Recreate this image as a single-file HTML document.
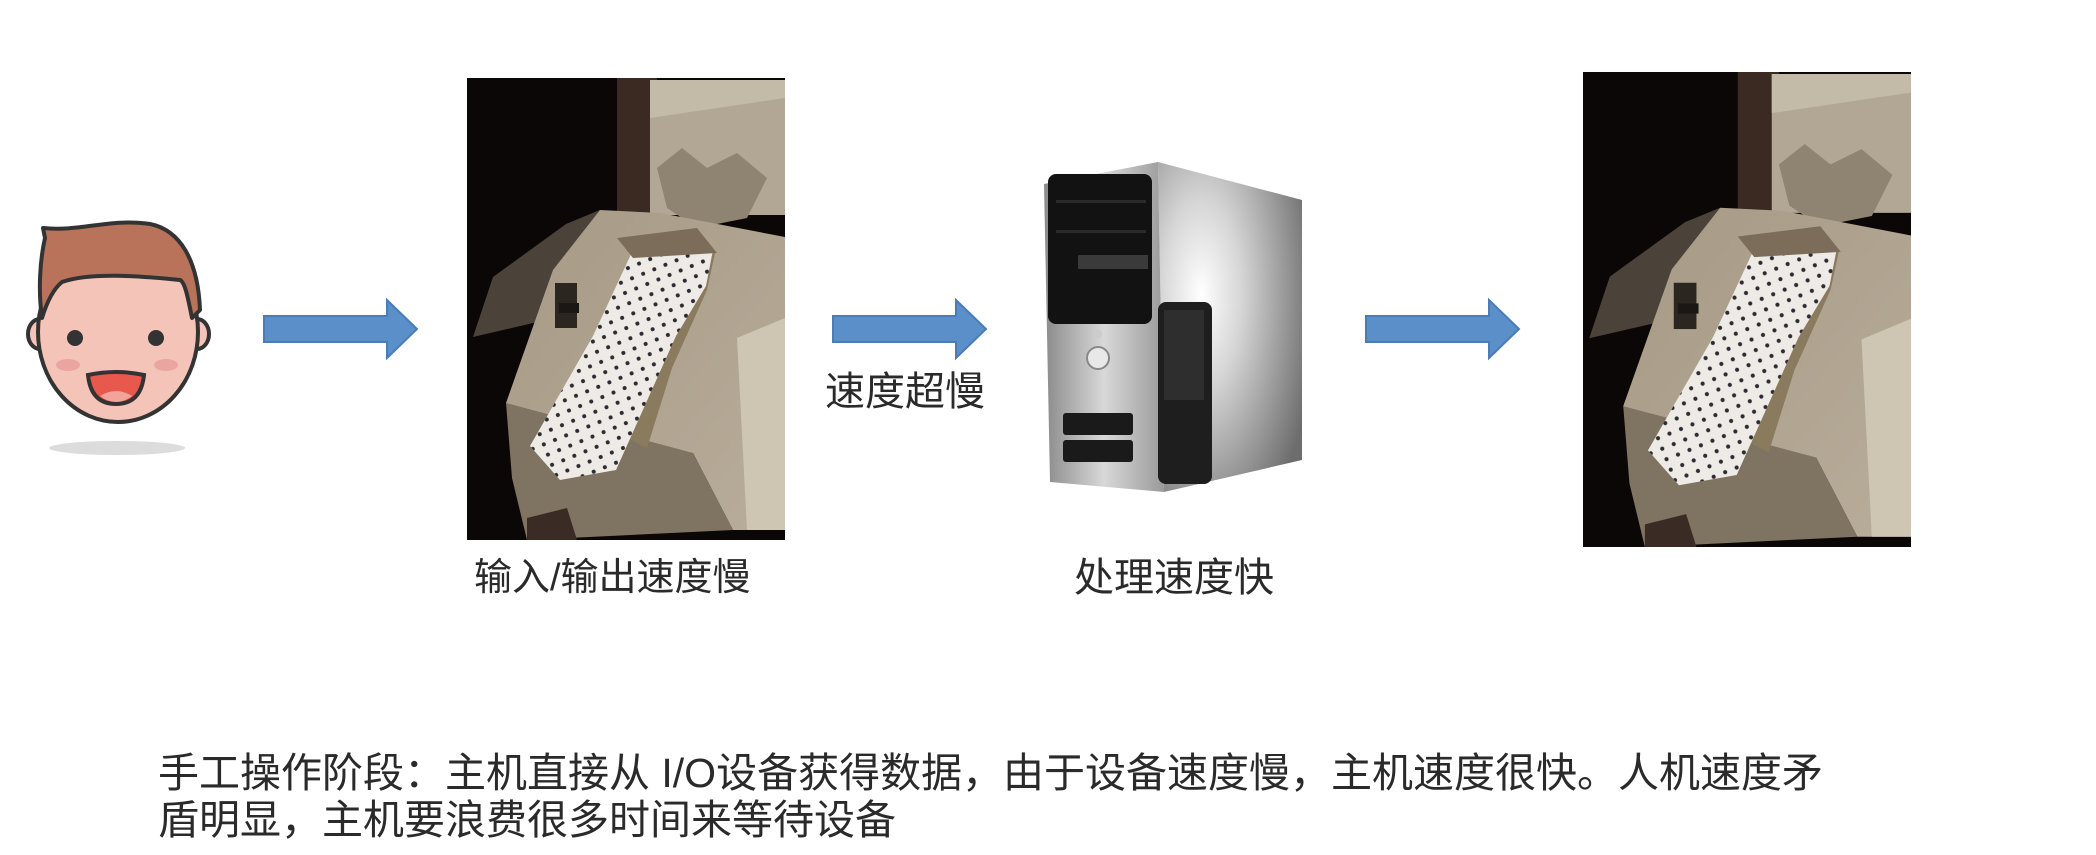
<!DOCTYPE html>
<html><head><meta charset="utf-8"><style>
html,body{margin:0;padding:0;background:#fff;}
body{width:2096px;height:855px;position:relative;overflow:hidden;font-family:"Liberation Sans","Noto Sans CJK SC",sans-serif;color:#2a2a2a;}
.a{position:absolute;}
.t{position:absolute;white-space:nowrap;line-height:1;}
</style></head><body>

<!-- face -->
<svg class="a" style="left:20px;top:210px" width="200" height="250" viewBox="0 0 200 250">
<ellipse cx="97" cy="238" rx="68" ry="7" fill="#dcdcdc"/>
<ellipse cx="20" cy="124" rx="12" ry="15" fill="#f5c4b8" stroke="#333" stroke-width="4"/>
<ellipse cx="177" cy="124" rx="12" ry="15" fill="#f5c4b8" stroke="#333" stroke-width="4"/>
<ellipse cx="98" cy="122" rx="80" ry="90" fill="#f5c4b8" stroke="#333" stroke-width="4"/>
<path d="M22,108 C18,80 20,50 25,28 L23,18 C60,22 90,8 130,14 C160,20 178,50 180,100 L172,108 C168,88 165,72 160,70 C120,66 70,62 42,72 C32,80 26,95 22,108 Z" fill="#b9735a" stroke="#333" stroke-width="4" stroke-linejoin="round"/>
<circle cx="55" cy="128" r="8" fill="#333"/>
<circle cx="136" cy="128" r="8" fill="#333"/>
<ellipse cx="48" cy="155" rx="12" ry="6" fill="#eba5a0"/>
<ellipse cx="146" cy="155" rx="12" ry="6" fill="#eba5a0"/>
<path d="M68,165 Q96,159 124,165 Q121,194 96,194 Q71,194 68,165 Z" fill="#e8584d" stroke="#333" stroke-width="4"/>
<path d="M80,186 Q96,176 112,186 Q104,192 96,192 Q88,192 80,186Z" fill="#f2a39a"/>
</svg>

<!-- arrows -->
<svg class="a" style="left:260px;top:296px" width="162" height="66" viewBox="0 0 162 66"><path d="M4,20 L127,20 L127,4 L157,33 L127,62 L127,46 L4,46 Z" fill="#5b8fca" stroke="#4a7db5" stroke-width="2"/></svg>
<svg class="a" style="left:829px;top:296px" width="162" height="66" viewBox="0 0 162 66"><path d="M4,20 L127,20 L127,4 L157,33 L127,62 L127,46 L4,46 Z" fill="#5b8fca" stroke="#4a7db5" stroke-width="2"/></svg>
<svg class="a" style="left:1362px;top:296px" width="162" height="66" viewBox="0 0 162 66"><path d="M4,20 L127,20 L127,4 L157,33 L127,62 L127,46 L4,46 Z" fill="#5b8fca" stroke="#4a7db5" stroke-width="2"/></svg>

<!-- photo defs -->
<svg width="0" height="0" style="position:absolute">
<defs>
<pattern id="dots" width="12" height="11" patternUnits="userSpaceOnUse" patternTransform="rotate(-22)">
<rect width="12" height="11" fill="#eeebe6"/><circle cx="6" cy="5.5" r="2" fill="#2b2a30"/>
</pattern>
<linearGradient id="body" x1="0" y1="0" x2="1" y2="1"><stop offset="0" stop-color="#a69a86"/><stop offset="1" stop-color="#b8ad9a"/></linearGradient>
<g id="photo">
<rect width="318" height="462" fill="#0b0706"/>
<rect x="150" y="0" width="40" height="170" fill="#3a2a21"/>
<rect x="183" y="2" width="135" height="135" fill="#b2a794"/>
<polygon points="183,2 318,2 318,20 183,40" fill="#c4baa8"/>
<polygon points="190,90 215,70 240,90 270,75 300,100 280,140 230,150 200,130" fill="#8f8472"/>
<polygon points="26,199 99,146 133,132 109,178 79,242 6,259" fill="#4b4239"/>
<polygon points="86,192 133,132 193,135 318,159 318,452 266,452 226,375 59,368 39,325" fill="url(#body)"/>
<polygon points="270,260 318,240 318,452 280,452" fill="#cfc5b3"/>
<polygon points="39,325 226,375 266,452 60,462 45,400" fill="#7f7361"/>
<polygon points="60,440 100,430 110,462 60,462" fill="#3a2c24"/>
<rect x="88" y="205" width="22" height="45" fill="#2c2620"/>
<rect x="92" y="225" width="20" height="10" fill="#1b1714"/>
<polygon points="206,180 248,175 240,212 205,290 180,370 160,360 185,270" fill="#8a7a5e"/>
<polygon points="166,172 246,172 239,208 209,258 179,325 149,392 93,402 63,368 126,258" fill="url(#dots)"/>
<polygon points="150,160 230,150 250,175 166,180" fill="#7c6d5a"/>
</g>
</defs>
</svg>
<svg class="a" style="left:467px;top:78px" width="318" height="462" viewBox="0 0 318 462" preserveAspectRatio="none"><use href="#photo"/></svg>
<svg class="a" style="left:1583px;top:72px" width="328" height="475" viewBox="0 0 318 462" preserveAspectRatio="none"><use href="#photo"/></svg>

<!-- computer -->
<svg class="a" style="left:1040px;top:160px" width="270" height="340" viewBox="0 0 270 340">
<defs>
<radialGradient id="side" cx="0.3" cy="0.4" r="0.8"><stop offset="0" stop-color="#ffffff"/><stop offset="0.35" stop-color="#d6d6d6"/><stop offset="1" stop-color="#6d6d6d"/></radialGradient>
<linearGradient id="front" x1="0" y1="0" x2="1" y2="0"><stop offset="0" stop-color="#8a8a8a"/><stop offset="0.5" stop-color="#d8d8d8"/><stop offset="1" stop-color="#9a9a9a"/></linearGradient>
</defs>
<polygon points="118,2 262,40 262,300 124,332" fill="url(#side)"/>
<polygon points="4,24 118,2 124,332 10,322" fill="url(#front)"/>
<rect x="8" y="14" width="104" height="150" rx="8" fill="#121212"/>
<rect x="16" y="40" width="90" height="3" fill="#2a2a2a"/>
<rect x="16" y="70" width="90" height="3" fill="#2a2a2a"/>
<rect x="38" y="95" width="70" height="14" fill="#3a3a3a"/>
<circle cx="58" cy="174" r="4" fill="#ccc"/>
<circle cx="58" cy="198" r="11" fill="#e8e8e8" stroke="#888" stroke-width="2"/>
<rect x="118" y="142" width="54" height="182" rx="8" fill="#1e1e1e"/>
<rect x="124" y="150" width="40" height="90" fill="#2e2e2e"/>
<rect x="23" y="253" width="70" height="22" rx="3" fill="#1a1a1a"/>
<rect x="23" y="280" width="70" height="22" rx="3" fill="#1a1a1a"/>
</svg>

<!-- labels -->
<div class="t" style="left:474px;top:559px;font-size:38px;">输入/输出速度慢</div>
<div class="t" style="left:825px;top:372px;font-size:40px;">速度超慢</div>
<div class="t" style="left:1074px;top:558px;font-size:40px;">处理速度快</div>
<div class="t" style="left:158px;top:750px;font-size:41px;line-height:47px;white-space:normal;width:1720px;">手工操作阶段：主机直接从 I/O设备获得数据，由于设备速度慢，主机速度很快。人机速度矛<br>盾明显，主机要浪费很多时间来等待设备</div>

</body></html>
